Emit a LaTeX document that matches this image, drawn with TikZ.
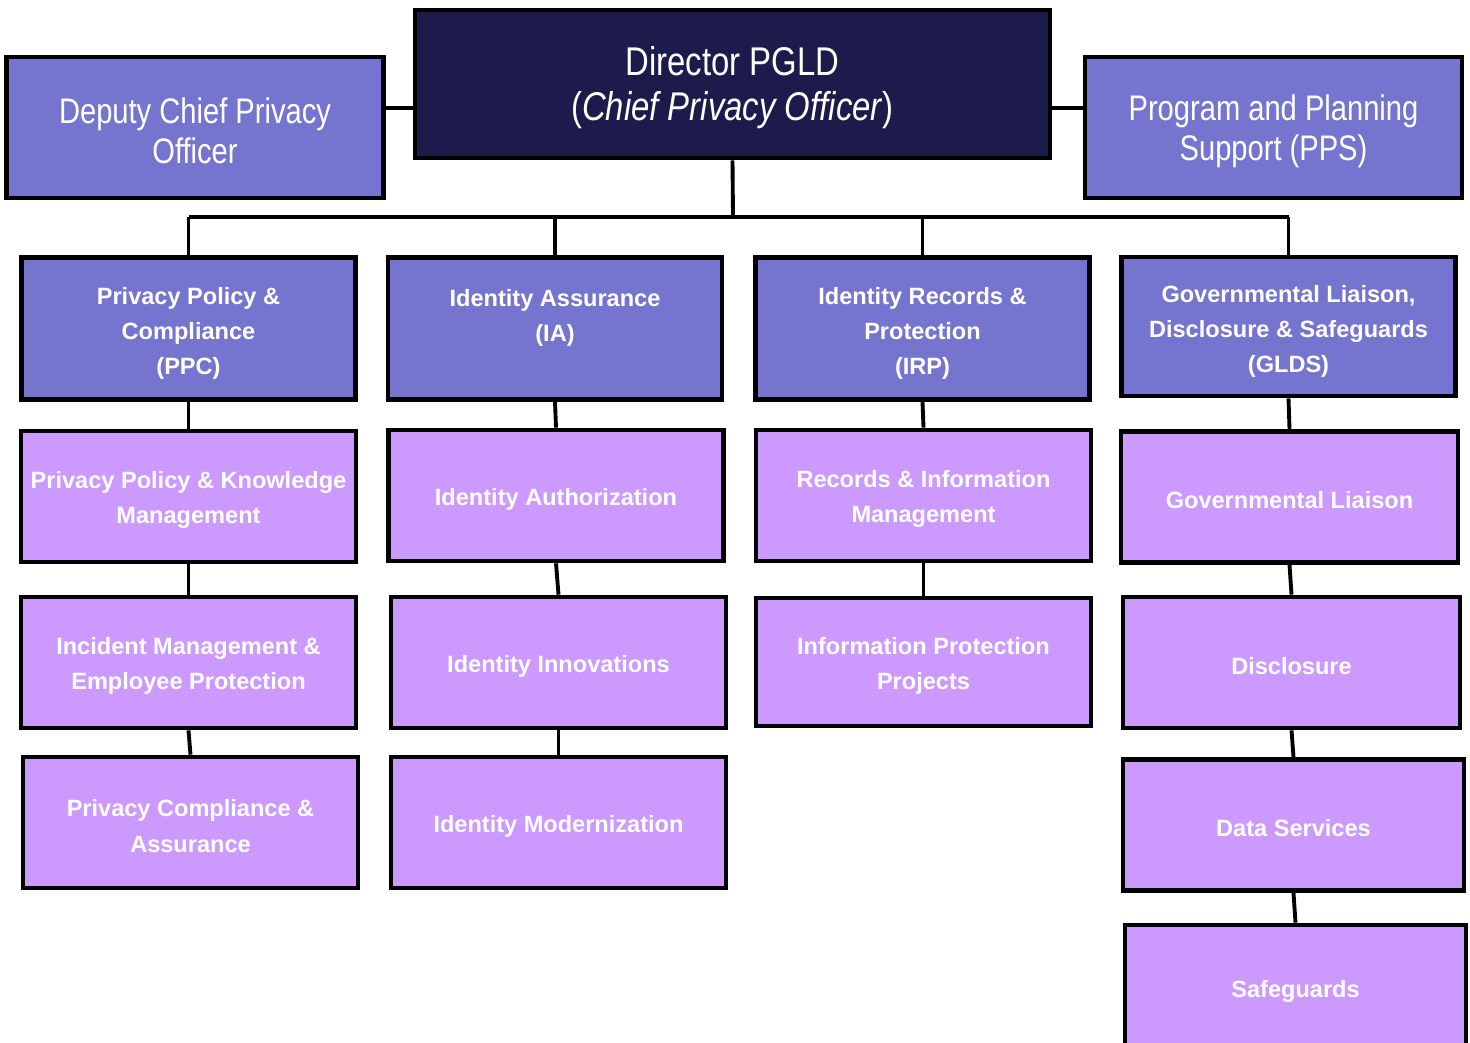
\documentclass[tikz,border=0pt]{standalone}
\usepackage{fontspec}
\setmainfont{Liberation Sans}
\newfontfamily\narrowsans{Liberation Sans}[FakeStretch=0.82]
\usetikzlibrary{positioning,calc}
\definecolor{navy}{HTML}{1C1B4C}
\definecolor{unitblue}{HTML}{7575CF}
\definecolor{teamlilac}{HTML}{CC99FF}

\begin{document}
\begin{tikzpicture}[x=0.01cm,y=-0.01cm,
  box/.style={draw=black,line width=1.3pt,align=center,text=white,inner sep=1pt},
  nudge/.style={execute at begin node={\setbox0=\hbox\bgroup},
    execute at end node={\egroup\raisebox{-#1}[\ht0][\dp0]{\copy0}}},
  head/.style={box,fill=navy,font=\narrowsans\fontsize{11.4}{12.8}\selectfont,minimum width=6.35cm,minimum height=1.48cm,nudge=1.1pt},
  side/.style={box,fill=unitblue,font=\narrowsans\fontsize{10.1}{11.4}\selectfont,minimum width=3.77cm,minimum height=1.41cm,nudge=1pt},
  unit/.style={box,fill=unitblue,font=\bfseries\fontsize{6.7}{10}\selectfont,minimum width=3.34cm,minimum height=1.42cm,nudge=1.4pt},
  team/.style={box,fill=teamlilac,font=\bfseries\fontsize{6.7}{10}\selectfont,minimum width=3.35cm,minimum height=1.31cm,nudge=1pt},
  conn/.style={line width=1.1pt}]
\clip (0,0) rectangle (1470,1042);
% top row
\node[head](dir) at(732.5,84){Director PGLD\\(\textit{Chief Privacy Officer})};
\node[side](dep) at(195,127.5){Deputy Chief Privacy\\Officer};
\node[side](pps) at(1273.5,127.5){Program and Planning\\Support (PPS)};
% units
\node[unit](ppc)  at(188.5,328.5){Privacy Policy \&\\Compliance\\(PPC)};
\node[unit](ia)   at(555,328.5){Identity Assurance\\(IA)\\\mbox{}};
\node[unit](irp)  at(922.5,328.5){Identity Records \&\\Protection\\(IRP)};
\node[unit,minimum height=1.39cm](glds) at(1288.5,326.5){Governmental Liaison,\\Disclosure \& Safeguards\\(GLDS)};
% teams
\node[team](pk)  at(188.5,496.5){Privacy Policy \& Knowledge\\Management};
\node[team](im)  at(188.5,662.5){Incident Management \&\\Employee Protection};
\node[team](pca) at(190.5,822.5){Privacy Compliance \&\\Assurance};
\node[team](iau) at(556,495.5){Identity Authorization};
\node[team](iin) at(558.5,662.5){Identity Innovations};
\node[team](imo) at(558.5,822.5){Identity Modernization};
\node[team](rim) at(923.5,495.5){Records \& Information\\Management};
\node[team,minimum height=1.28cm](ipp) at(923.5,662){Information Protection\\Projects};
\node[team,minimum width=3.37cm](gl)  at(1289.5,497){Governmental Liaison};
\node[team,minimum width=3.37cm](dis) at(1291.5,662.5){Disclosure};
\node[team,minimum width=3.41cm](ds)  at(1293.5,825){Data Services};
\node[team,minimum width=3.41cm,minimum height=1.25cm](sg) at(1295.5,987.5){Safeguards};
% connectors
\coordinate(bus) at(733,217);
\coordinate(tie) at($(dir.west)+(0,24)$);
\coordinate(tieR) at($(dir.east)+(0,24)$);
\draw[conn](dep.east|-tie)--(tie);
\draw[conn](tieR)--(pps.west|-tieR);
\draw[conn](dir.south)--(bus);
\draw[conn](bus-|ppc.north)--(bus-|glds.north);
\foreach \u in {ppc,ia,irp,glds}
  \draw[conn](bus-|\u.north)--(\u.north);
\foreach \a/\b in {ppc/pk,pk/im,im/pca,ia/iau,iau/iin,iin/imo,irp/rim,rim/ipp,glds/gl,gl/dis,dis/ds,ds/sg}
  \draw[conn](\a.south)--(\b.north);
\end{tikzpicture}
\end{document}
